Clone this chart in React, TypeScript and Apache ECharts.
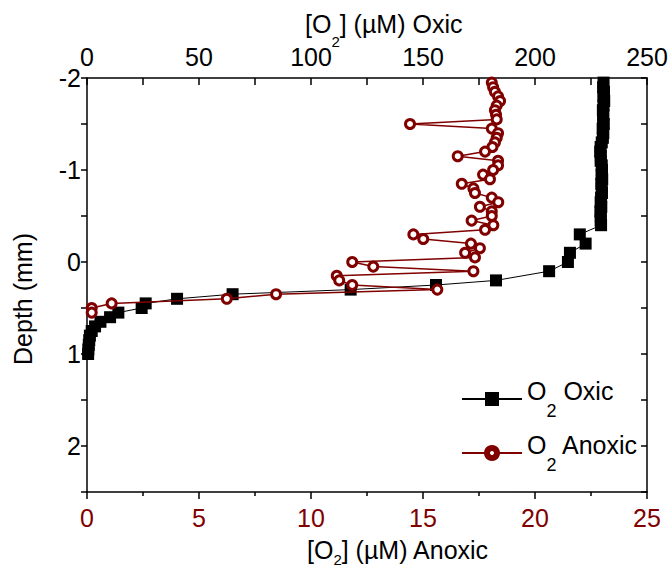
import React, { useEffect, useRef } from 'react';
import * as echarts from 'echarts';

// Depth (mm) and [O2] (µM) for the oxic profile (top axis)
const oxicDepth = [
  -1.95, -1.9, -1.85, -1.8, -1.75, -1.7, -1.65, -1.6, -1.55, -1.5, -1.45, -1.4, -1.35, -1.3, -1.25, -1.2,
  -1.15, -1.1, -1.05, -1.0, -0.95, -0.9, -0.85, -0.8, -0.75, -0.7, -0.65, -0.6, -0.55, -0.5, -0.45, -0.4,
  -0.3, -0.2, -0.1, 0, 0.1, 0.2, 0.25, 0.3, 0.35, 0.4, 0.45, 0.5, 0.55, 0.6, 0.65, 0.7, 0.75, 0.8, 0.85,
  0.9, 0.95, 1.0,
];
const oxicO2 = [
  230.6, 230.4, 230.8, 230.5, 230.9, 230.6, 230.3, 230.5, 230.4, 230.7, 230.2, 230.5, 230.3, 229.8, 229.3, 229.1,
  229.4, 229.3, 229.8, 229.9, 229.7, 230.0, 229.6, 229.8, 229.9, 229.5, 229.3, 229.6, 229.2, 229.4, 229.3, 229.5,
  220.0, 222.6, 215.6, 214.7, 206.3, 182.6, 155.8, 117.7, 65.0, 40.2, 26.2, 24.4, 14.0, 10.3, 6.0, 3.6, 2.1, 1.3, 1.0,
  0.8, 0.6, 0.5,
];

// Depth (mm) and [O2] (µM) for the anoxic profile (bottom axis)
const anoxicDepth = [
  -1.95, -1.9, -1.85, -1.8, -1.75, -1.7, -1.65, -1.6, -1.55, -1.5, -1.45, -1.4, -1.35, -1.3, -1.25, -1.2,
  -1.15, -1.1, -1.05, -1.0, -0.95, -0.9, -0.85, -0.8, -0.75, -0.7, -0.65, -0.6, -0.55, -0.5, -0.45, -0.4,
  -0.35, -0.3, -0.25, -0.2, -0.15, -0.1, -0.05, 0, 0.05, 0.1, 0.15, 0.2, 0.25, 0.3, 0.35, 0.4, 0.45, 0.5, 0.55,
];
const anoxicO2 = [
  18.07, 18.13, 18.21, 18.35, 18.44, 18.29, 18.21, 18.26, 18.29, 14.42, 18.07, 18.35, 18.29, 18.21, 18.1, 17.77,
  16.55, 18.35, 18.35, 18.13, 17.68, 17.99, 16.73, 17.25, 17.32, 18.07, 18.36, 17.54, 18.07, 18.07, 17.17, 18.14,
  17.77, 14.57, 15.01, 17.14, 17.54, 16.88, 17.32, 11.84, 12.78, 17.25, 11.15, 11.26, 11.84, 15.64, 8.44, 6.24, 1.1, 0.21, 0.21,
];

const seriesNames = ['O2 Oxic', 'O2 Anoxic'];
const topTitle = '[O2] (µM) Oxic';
const bottomTitle = '[O2] (µM) Anoxic';
const leftTitle = 'Depth (mm)';

export default function App() {
  const ref = useRef<HTMLDivElement>(null);

  useEffect(() => {
    document.body.style.margin = '0';
    const chart = echarts.init(ref.current!, null, { renderer: 'svg' });
    const font = 'Liberation Sans, Arial, sans-serif';
    const dark = '#800000';
    const axisLineStyle = { color: '#000', width: 1.5 };

    const makeRich = (nLine: number, subSize: number, subPad: number) => ({
      n: { fontSize: 25, fontFamily: font, color: '#000', lineHeight: nLine, verticalAlign: 'top' },
      s: { fontSize: subSize, fontFamily: font, color: '#000', lineHeight: subSize, verticalAlign: 'top', padding: [subPad, 0, 0, 0] },
    });
    const sub = (t: string) => {
      const i = t.indexOf('O2');
      return `{n|${t.slice(0, i)}O}{s|2}{n|${t.slice(i + 2)}}`;
    };

    const option: any = {
      animation: false,
      backgroundColor: '#fff',
      textStyle: { fontFamily: font },
      grid: { left: 87, top: 78, width: 560, height: 414, containLabel: false },
      xAxis: [
        {
          type: 'value', position: 'bottom', min: 0, max: 25, interval: 5,
          axisLine: { show: true, onZero: false, lineStyle: axisLineStyle },
          axisTick: { show: true, inside: false, length: 7, lineStyle: axisLineStyle },
          minorTick: { show: true, splitNumber: 2, length: 4, lineStyle: axisLineStyle },
          axisLabel: { color: dark, fontSize: 25, fontFamily: font, margin: 13 },
          splitLine: { show: false }, minorSplitLine: { show: false },
        },
        {
          type: 'value', position: 'top', min: 0, max: 250, interval: 50,
          axisLine: { show: true, onZero: false, lineStyle: axisLineStyle },
          axisTick: { show: true, inside: true, length: 7, lineStyle: axisLineStyle },
          minorTick: { show: true, splitNumber: 2, length: 7, lineStyle: axisLineStyle },
          axisLabel: { color: '#000', fontSize: 25, fontFamily: font, margin: 9 },
          splitLine: { show: false }, minorSplitLine: { show: false },
        },
      ],
      yAxis: [
        {
          type: 'value', position: 'left', inverse: true, min: -2, max: 2.5, interval: 0.5,
          axisLine: { show: true, onZero: false, lineStyle: axisLineStyle },
          axisTick: { show: true, inside: false, length: 6, lineStyle: axisLineStyle },
          axisLabel: {
            color: '#000', fontSize: 25, fontFamily: font, margin: 6,
            formatter: (v: number) => (Math.abs(v - Math.round(v)) < 1e-9 ? String(Math.round(v)) : ''),
          },
          splitLine: { show: false },
        },
        {
          type: 'value', position: 'right', inverse: true, min: -2, max: 2.5, interval: 0.5,
          axisLine: { show: true, onZero: false, lineStyle: axisLineStyle },
          axisTick: { show: true, inside: true, length: 6, lineStyle: axisLineStyle },
          axisLabel: { show: false },
          splitLine: { show: false },
        },
      ],
      legend: {
        orient: 'vertical', left: 461, top: 378, padding: 0,
        itemWidth: 60, itemHeight: 12.5, itemGap: 12,
        data: [
          { name: seriesNames[0], itemStyle: { borderWidth: 4, borderColor: '#000' } },
          { name: seriesNames[1], itemStyle: { borderWidth: 6 } },
        ],
        formatter: (name: string) => sub(name),
        textStyle: { fontFamily: font, fontSize: 25, color: '#000', rich: makeRich(42, 18, 24) },
      },
      graphic: [
        {
          type: 'text', x: 305, y: 11,
          style: { text: sub(topTitle), rich: makeRich(30, 15, 23), align: 'left', verticalAlign: 'top', fontFamily: font, fontSize: 25 },
        },
        {
          type: 'text', x: 307, y: 537,
          style: { text: sub(bottomTitle), rich: makeRich(30, 15, 15), align: 'left', verticalAlign: 'top', fontFamily: font, fontSize: 25 },
        },
        {
          type: 'text', x: 23, y: 299, rotation: Math.PI / 2,
          style: { text: leftTitle, fontSize: 25, fontFamily: font, fill: '#000', align: 'center', verticalAlign: 'middle' },
        },
      ],
      series: [
        {
          name: seriesNames[0], type: 'line', xAxisIndex: 1, yAxisIndex: 0,
          data: oxicO2.map((v, i) => [v, oxicDepth[i]]),
          symbol: 'rect', symbolSize: 12,
          itemStyle: { color: '#000' },
          lineStyle: { color: '#000', width: 1 },
          z: 2,
        },
        {
          name: seriesNames[1], type: 'line', xAxisIndex: 0, yAxisIndex: 0,
          data: anoxicO2.map((v, i) => [v, anoxicDepth[i]]),
          symbol: 'circle', symbolSize: 9,
          itemStyle: { color: '#fff', borderColor: dark, borderWidth: 3 },
          lineStyle: { color: dark, width: 1.5 },
          z: 3,
        },
      ],
    };

    chart.setOption(option);
    return () => chart.dispose();
  }, []);

  return <div ref={ref} style={{ width: 672, height: 570 }} />;
}
